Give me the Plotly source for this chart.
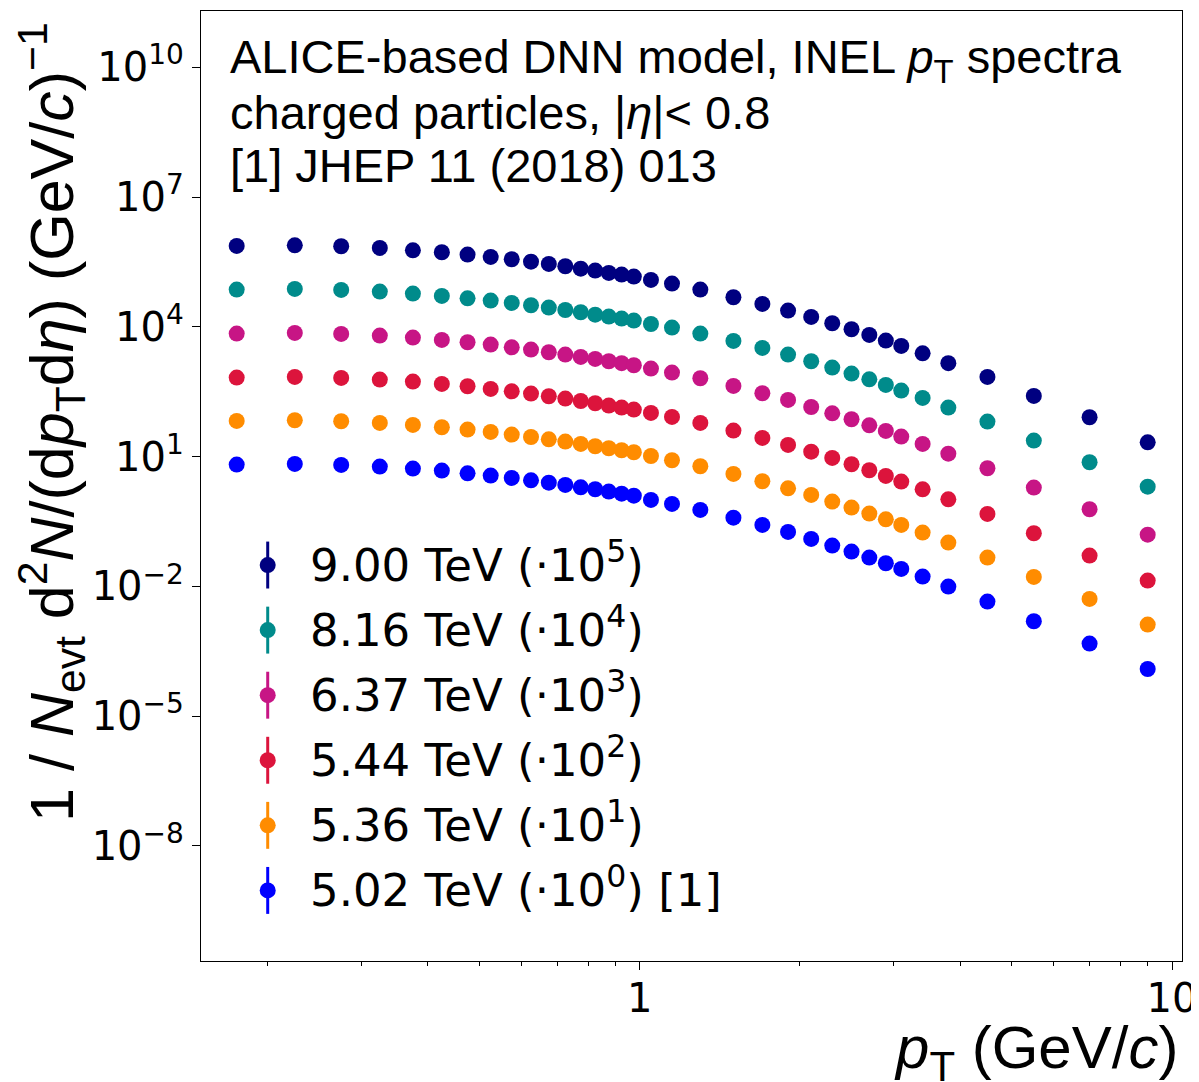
import plotly.graph_objects as go

# ---------------- data ----------------
pt = [0.175, 0.225, 0.275, 0.325, 0.375, 0.425, 0.475, 0.525, 0.575, 0.625,
      0.675, 0.725, 0.775, 0.825, 0.875, 0.925, 0.975, 1.05, 1.15, 1.3,
      1.5, 1.7, 1.9, 2.1, 2.3, 2.5, 2.7, 2.9, 3.1, 3.4,
      3.8, 4.5, 5.5, 7.0, 9.0]

labels = ["9.00 TeV (·10<sup>5</sup>)", "8.16 TeV (·10<sup>4</sup>)",
          "6.37 TeV (·10<sup>3</sup>)", "5.44 TeV (·10<sup>2</sup>)",
          "5.36 TeV (·10<sup>1</sup>)", "5.02 TeV (·10<sup>0</sup>) [1]"]
scales = [1e5, 1e4, 1e3, 1e2, 1e1, 1e0]
colors = ["#000080", "#008B8B", "#C71585", "#DC143C", "#FF8C00", "#0000FF"]

y_900 = [7.40, 7.66, 7.27, 6.65, 5.87, 5.28, 4.67, 4.12, 3.64, 3.21,
         2.84, 2.51, 2.21, 1.99, 1.76, 1.61, 1.45, 1.21, 0.997, 0.724,
         0.482, 0.338, 0.237, 0.169, 0.121, 0.0877, 0.0648, 0.0480, 0.0361, 0.0244,
         0.0144, 0.00693, 0.00252, 0.000811, 0.000214]
y_816 = [7.24, 7.50, 7.11, 6.51, 5.85, 5.17, 4.56, 4.03, 3.56, 3.15,
         2.78, 2.45, 2.17, 1.91, 1.72, 1.55, 1.39, 1.16, 0.958, 0.697,
         0.471, 0.325, 0.228, 0.160, 0.114, 0.0828, 0.0612, 0.0453, 0.0335, 0.0227,
         0.0136, 0.00644, 0.00234, 0.000739, 0.000202]
y_637 = [6.96, 7.21, 6.84, 6.26, 5.63, 4.97, 4.39, 3.88, 3.36, 2.97,
         2.58, 2.28, 2.01, 1.81, 1.60, 1.44, 1.29, 1.08, 0.873, 0.646,
         0.430, 0.291, 0.204, 0.140, 0.100, 0.0729, 0.0529, 0.0392, 0.0290, 0.0196,
         0.0117, 0.00537, 0.00192, 0.000605, 0.000157]
y_544 = [6.69, 6.93, 6.58, 6.02, 5.41, 4.78, 4.22, 3.66, 3.23, 2.86,
         2.48, 2.19, 1.93, 1.71, 1.51, 1.36, 1.22, 1.02, 0.825, 0.599,
         0.399, 0.270, 0.186, 0.130, 0.0930, 0.0664, 0.0483, 0.0357, 0.0264, 0.0175,
         0.0103, 0.00472, 0.00169, 0.000514, 0.000136]
y_536 = [6.67, 6.91, 6.55, 5.99, 5.39, 4.76, 4.20, 3.71, 3.22, 2.84,
         2.51, 2.22, 1.96, 1.73, 1.56, 1.40, 1.26, 1.03, 0.822, 0.597,
         0.397, 0.269, 0.185, 0.130, 0.0910, 0.0661, 0.0481, 0.0355, 0.0263, 0.0175,
         0.0103, 0.00462, 0.00165, 0.000512, 0.000131]
y_502 = [6.52, 6.76, 6.41, 5.86, 5.27, 4.74, 4.11, 3.63, 3.21, 2.83,
         2.50, 2.21, 1.95, 1.76, 1.55, 1.39, 1.25, 0.995, 0.804, 0.584,
         0.388, 0.263, 0.181, 0.125, 0.0875, 0.0636, 0.0462, 0.0342, 0.0253, 0.0168,
         0.00987, 0.00444, 0.00156, 0.000475, 0.000123]

series = [y_900, y_816, y_637, y_544, y_536, y_502]

y_tickvals = [1e-8, 1e-5, 1e-2, 1e1, 1e4, 1e7, 1e10]
y_ticktext = ["10<sup>−8</sup>", "10<sup>−5</sup>", "10<sup>−2</sup>", "10<sup>1</sup>",
              "10<sup>4</sup>", "10<sup>7</sup>", "10<sup>10</sup>"]
x_tickvals = [1, 10]
x_ticktext = ["1", "10"]
x_minor = [0.2, 0.3, 0.4, 0.5, 0.6, 0.7, 0.8, 0.9, 2, 3, 4, 5, 6, 7, 8, 9]

# ---------------- figure ----------------
# page body has an 8 px margin, so the figure is 8 px smaller than the window
W, H = 1191, 1074
L, R, T, B = 193, 17, 3, 121
fig = go.Figure()

for ys, sc, col in zip(series, scales, colors):
    fig.add_trace(go.Scatter(
        x=pt, y=[v * sc for v in ys], mode="markers",
        marker=dict(color=col, size=16, symbol="circle", line=dict(width=0)),
        showlegend=False, hoverinfo="skip"))

# custom legend (errorbar-style symbol) on an overlay axis in [0,1]
leg_x = 0.068
leg_y0, leg_dy = 0.4168, 0.0685
for i, (lab, col) in enumerate(zip(labels, colors)):
    yy = leg_y0 - i * leg_dy
    fig.add_trace(go.Scatter(
        x=[leg_x], y=[yy], xaxis="x2", yaxis="y2", mode="markers",
        marker=dict(color=col, size=16),
        error_y=dict(type="constant", value=0.0247, thickness=3, width=0, color=col),
        showlegend=False, hoverinfo="skip"))
    fig.add_annotation(x=0.1088, y=yy + 0.003, xref="paper", yref="paper",
                       xanchor="left", yanchor="middle", showarrow=False,
                       text=lab, font=dict(family="DejaVu Sans", size=45, color="black"))

title_font = dict(family="Liberation Sans", size=47, color="black")
title_lines = ["ALICE-based DNN model, INEL <i>p</i><sub>T</sub> spectra",
               "charged particles, |<i>η</i>|< 0.8",
               "[1] JHEP 11 (2018) 013"]
title_y = [0.9484, 0.8936, 0.8378]
for txt, yy in zip(title_lines, title_y):
    fig.add_annotation(x=0.0275, y=yy, xref="paper", yref="paper",
                       xanchor="left", yanchor="middle", showarrow=False,
                       text=txt, font=title_font)

# axis titles
fig.add_annotation(x=0.9975, y=-0.096, xref="paper", yref="paper",
                   xanchor="right", yanchor="middle", showarrow=False,
                   text="<i>p</i><sub>T</sub> (GeV/<i>c</i>)",
                   font=dict(family="Liberation Sans", size=60, color="black"))
fig.add_annotation(x=-0.153, y=0.5674, xref="paper", yref="paper",
                   xanchor="center", yanchor="middle", showarrow=False, textangle=-90,
                   text="1 / <i>N</i><sub>evt</sub> d<sup>2</sup><i>N</i>/(d<i>p</i><sub>T</sub>d<i>η</i>) (GeV/<i>c</i>)<sup>−1</sup>",
                   font=dict(family="Liberation Sans", size=61, color="black"))

fig.update_layout(
    width=W, height=H,
    margin=dict(l=L, r=R, t=T, b=B, autoexpand=False),
    paper_bgcolor="white", plot_bgcolor="white",
    showlegend=False,
    xaxis=dict(type="log", range=[-0.824, 1.0187], showgrid=False, zeroline=False,
               showline=True, linecolor="black", linewidth=1.3, mirror=True,
               ticks="outside", ticklen=8, tickwidth=1.3, tickcolor="black",
               tickvals=x_tickvals, ticktext=x_ticktext, ticklabelstandoff=-6,
               ticklabeloverflow="allow",
               tickfont=dict(family="DejaVu Sans", size=40, color="black"),
               minor=dict(tickvals=x_minor, ticks="outside", ticklen=4,
                          tickwidth=1, tickcolor="black", showgrid=False)),
    yaxis=dict(type="log", range=[-10.66, 11.30], showgrid=False, zeroline=False,
               showline=True, linecolor="black", linewidth=1.3, mirror=True,
               ticks="outside", ticklen=8, tickwidth=1.3, tickcolor="black",
               tickvals=y_tickvals, ticktext=y_ticktext, ticklabelstandoff=0,
               ticklabeloverflow="allow",
               tickfont=dict(family="DejaVu Sans", size=40, color="black")),
    xaxis2=dict(overlaying="x", anchor="y2", range=[0, 1], visible=False),
    yaxis2=dict(overlaying="y", anchor="x2", range=[0, 1], visible=False),
)

fig.write_html("out.html")
